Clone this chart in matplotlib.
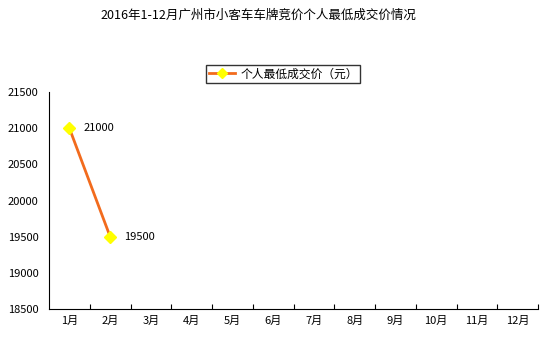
import matplotlib
matplotlib.use('Agg')
import matplotlib.pyplot as plt

plt.rcParams['font.family'] = ['Noto Sans CJK SC', 'DejaVu Sans']

# 数据
months = ['1月', '2月', '3月', '4月', '5月', '6月', '7月', '8月', '9月', '10月', '11月', '12月']
prices = [21000, 19500]
y_ticks = [18500, 19000, 19500, 20000, 20500, 21000, 21500]
title = '2016年1-12月广州市小客车车牌竞价个人最低成交价情况'
series_name = '个人最低成交价（元）'

fig = plt.figure(figsize=(5.47, 3.41), dpi=100)
ax = fig.add_axes([0.0896, 0.094, 0.894, 0.636])

x = list(range(len(prices)))
ax.plot(x, prices, color='#F26B1D', linewidth=2, marker='D', markersize=6.5,
        markerfacecolor='#FFFF00', markeredgecolor='#FFFF00', label=series_name)
for xi, yi in zip(x, prices):
    ax.text(xi + 0.35, yi, str(yi), fontsize=8, va='center', ha='left')

ax.set_xlim(-0.5, len(months) - 0.5)
ax.set_ylim(18500, 21500)
ax.set_xticks(range(len(months)))
ax.set_xticklabels(months, fontsize=8)
ax.set_xticks([i + 0.5 for i in range(len(months))], minor=True)
ax.tick_params(axis='x', which='major', length=0, pad=5)
ax.tick_params(axis='x', which='minor', direction='in', length=3.5, width=0.8)
ax.set_yticks(y_ticks)
ax.set_yticklabels([str(v) for v in y_ticks], fontsize=8)
ax.tick_params(axis='y', length=0, pad=7.5)
ax.spines['top'].set_visible(False)
ax.spines['right'].set_visible(False)

fig.text(0.473, 0.955, title, ha='center', va='center', fontsize=9)
fig.legend(loc='center', bbox_to_anchor=(0.518, 0.783), fontsize=8.5, frameon=True,
           fancybox=False, edgecolor='black', handlelength=2.2, borderpad=0.2,
           handletextpad=0.5, markerscale=0.8)

plt.savefig('out.png', dpi=100)
